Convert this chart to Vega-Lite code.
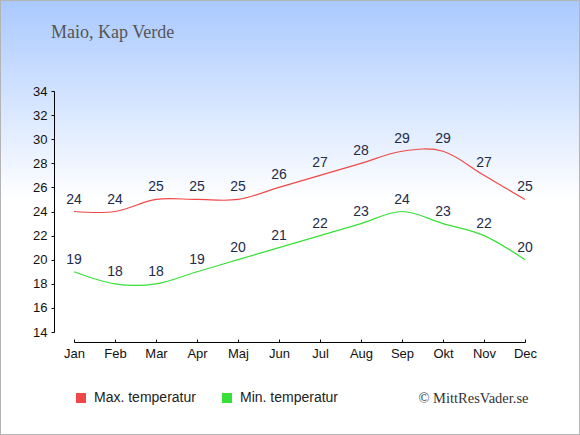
{
  "$schema": "https://vega.github.io/schema/vega-lite/v6.json",
  "description": "Max and min temperature per month in Maio, Cape Verde.",
  "width": 451,
  "height": 241,
  "autosize": {"type": "none"},
  "padding": {"left": 74, "top": 91, "right": 55, "bottom": 103},
  "background": "#ffffff",
  "title": {
    "text": "Maio, Kap Verde",
    "anchor": "start",
    "frame": "group",
    "dx": -23,
    "offset": -57,
    "baseline": "alphabetic",
    "font": "Liberation Serif",
    "fontSize": 18,
    "fontWeight": "normal",
    "color": "#555555"
  },
  "config": {
    "view": {"stroke": null},
    "font": "Liberation Sans",
    "axis": {
      "grid": false,
      "domainColor": "#000000",
      "tickColor": "#000000",
      "labelColor": "#111111",
      "labelFont": "Liberation Sans",
      "labelFontSize": 13,
      "labelOverlap": false
    }
  },
  "datasets": {
    "temps": [
      {"month": 1, "series": "Max. temperatur", "value": 24},
      {"month": 2, "series": "Max. temperatur", "value": 24},
      {"month": 3, "series": "Max. temperatur", "value": 25},
      {"month": 4, "series": "Max. temperatur", "value": 25},
      {"month": 5, "series": "Max. temperatur", "value": 25},
      {"month": 6, "series": "Max. temperatur", "value": 26},
      {"month": 7, "series": "Max. temperatur", "value": 27},
      {"month": 8, "series": "Max. temperatur", "value": 28},
      {"month": 9, "series": "Max. temperatur", "value": 29},
      {"month": 10, "series": "Max. temperatur", "value": 29},
      {"month": 11, "series": "Max. temperatur", "value": 27},
      {"month": 12, "series": "Max. temperatur", "value": 25},
      {"month": 1, "series": "Min. temperatur", "value": 19},
      {"month": 2, "series": "Min. temperatur", "value": 18},
      {"month": 3, "series": "Min. temperatur", "value": 18},
      {"month": 4, "series": "Min. temperatur", "value": 19},
      {"month": 5, "series": "Min. temperatur", "value": 20},
      {"month": 6, "series": "Min. temperatur", "value": 21},
      {"month": 7, "series": "Min. temperatur", "value": 22},
      {"month": 8, "series": "Min. temperatur", "value": 23},
      {"month": 9, "series": "Min. temperatur", "value": 24},
      {"month": 10, "series": "Min. temperatur", "value": 23},
      {"month": 11, "series": "Min. temperatur", "value": 22},
      {"month": 12, "series": "Min. temperatur", "value": 20}
    ]
  },
  "layer": [
    {
      "data": {"values": [{}]},
      "mark": {
        "type": "rect",
        "clip": false,
        "stroke": "#b4b4b4",
        "strokeWidth": 2,
        "fill": {
          "gradient": "linear",
          "x1": 0, "y1": 0, "x2": 0, "y2": 1,
          "stops": [
            {"offset": 0, "color": "#a9c9ff"},
            {"offset": 0.46, "color": "#ffffff"},
            {"offset": 1, "color": "#ffffff"}
          ]
        }
      },
      "encoding": {
        "x": {"datum": -0.80488, "type": "quantitative", "scale": {"domain": [1, 12]}},
        "x2": {"datum": 13.34146},
        "y": {
          "datum": 5.4523,
          "type": "quantitative",
          "scale": {"domain": [14, 34]},
          "axis": {
            "zindex": 1,
            "values": [14, 16, 18, 20, 22, 24, 26, 28, 30, 32, 34],
            "tickCount": 11,
            "offset": 20,
            "tickSize": 3,
            "labelPadding": 4,
            "title": null
          }
        },
        "y2": {"datum": 41.5519}
      }
    },
    {
      "data": {"name": "temps"},
      "mark": {"type": "line", "interpolate": "cardinal", "strokeWidth": 1.2},
      "encoding": {
        "x": {
          "field": "month",
          "type": "quantitative",
          "scale": {"domain": [1, 12], "nice": false, "zero": false},
          "axis": {
            "zindex": 1,
            "values": [1, 2, 3, 4, 5, 6, 7, 8, 9, 10, 11, 12],
            "labelExpr": "['Jan','Feb','Mar','Apr','Maj','Jun','Jul','Aug','Sep','Okt','Nov','Dec'][datum.value - 1]",
            "offset": 10,
            "tickSize": -3,
            "labelPadding": 8,
            "labelFlush": false,
            "title": "© MittResVader.se",
            "titleFont": "Liberation Serif",
            "titleFontSize": 14.5,
            "titleFontWeight": "normal",
            "titleColor": "#333333",
            "titleAlign": "right",
            "titleBaseline": "middle",
            "titleX": 454,
            "titleY": 56
          }
        },
        "y": {
          "field": "value",
          "type": "quantitative",
          "scale": {"domain": [14, 34], "nice": false, "zero": false},
          "axis": {
            "zindex": 1,
            "values": [14, 16, 18, 20, 22, 24, 26, 28, 30, 32, 34],
            "tickCount": 11,
            "offset": 20,
            "tickSize": 3,
            "labelPadding": 4,
            "title": null
          }
        },
        "color": {
          "field": "series",
          "type": "nominal",
          "scale": {
            "domain": ["Max. temperatur", "Min. temperatur"],
            "range": ["#f04848", "#36e036"]
          },
          "legend": {
            "title": null,
            "orient": "none",
            "direction": "horizontal",
            "legendX": 0,
            "legendY": 300,
            "symbolType": "square",
            "symbolSize": 100,
            "symbolStrokeWidth": 0,
            "symbolOpacity": 1,
            "labelFont": "Liberation Sans",
            "labelFontSize": 14,
            "labelColor": "#222222",
            "labelOffset": 6,
            "columnPadding": 24,
            "zindex": 1,
            "encode": {
              "symbols": {
                "update": {
                  "fill": {"scale": "color", "field": "value"},
                  "fillOpacity": {"value": 1}
                }
              }
            }
          }
        }
      }
    },
    {
      "data": {"name": "temps"},
      "mark": {
        "type": "text",
        "baseline": "alphabetic",
        "dy": -8,
        "font": "Liberation Sans",
        "fontSize": 14,
        "color": "#1e2b4a"
      },
      "encoding": {
        "x": {"field": "month", "type": "quantitative"},
        "y": {"field": "value", "type": "quantitative"},
        "text": {"field": "value", "type": "quantitative"}
      }
    }
  ]
}
